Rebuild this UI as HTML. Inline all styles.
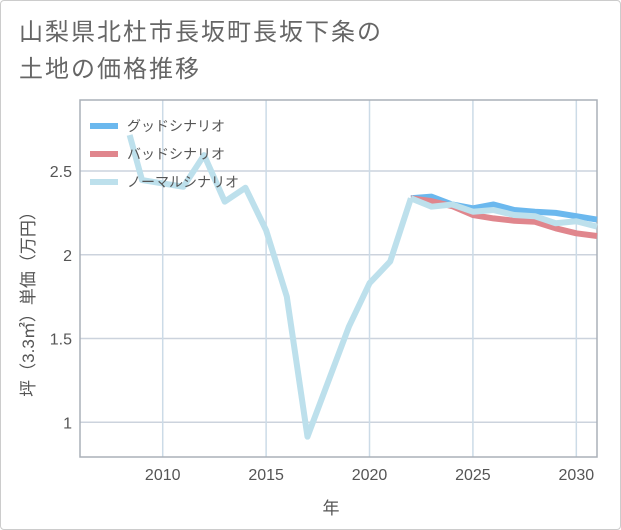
<!DOCTYPE html>
<html><head><meta charset="utf-8"><style>
html,body{margin:0;padding:0;background:#fff;}
body{width:621px;height:530px;overflow:hidden;font-family:"Liberation Sans","Noto Sans CJK JP",sans-serif;}
.card{position:absolute;left:0;top:0;width:619px;height:528px;border:1px solid #ccc;border-radius:4px;}
.title{position:absolute;left:19px;top:14px;font-size:24px;letter-spacing:2px;line-height:37px;color:#666;white-space:nowrap;}
</style></head><body>
<div class="card"></div>
<div class="title">山梨県北杜市長坂町長坂下条の<br>土地の価格推移</div>
<svg id="chart" width="621" height="530" style="position:absolute;left:0;top:0"></svg>
<script>
const years=[2008.4,2009,2011,2012,2013,2014,2015,2016,2017,2019,2020,2021,2022];
const hist=[2.715,2.446,2.406,2.595,2.317,2.40,2.146,1.75,0.914,1.57,1.83,1.96,2.337];
const fYears=[2022,2023,2024,2025,2026,2027,2028,2029,2030,2031];
const good=[2.337,2.347,2.30,2.277,2.30,2.267,2.257,2.25,2.23,2.21];
const bad=[2.337,2.32,2.29,2.237,2.217,2.203,2.197,2.158,2.128,2.112];
const normal=[2.337,2.287,2.30,2.257,2.267,2.237,2.23,2.188,2.20,2.168];
const xTicks=[2010,2015,2020,2025,2030];
const yTicks=[1,1.5,2,2.5];
const NS='http://www.w3.org/2000/svg';
const svg=document.getElementById('chart');
const L=80,R=597,T=100,B=457;
const X=y=>L+(y-2006)/(2031-2006)*(R-L);
const Y=v=>171+(2.5-v)*167.5;
function mk(t,a){const e=document.createElementNS(NS,t);for(const k in a)e.setAttribute(k,a[k]);svg.appendChild(e);return e;}
yTicks.forEach(v=>{
 const g=mk('line',{x1:L,x2:R,y1:Y(v),y2:Y(v),stroke:'#ccd3dd','stroke-width':1.5});
 
 
 const t=mk('text',{x:L-8,y:Y(v)+6,'text-anchor':'end','font-size':16,fill:'#555'});
 t.textContent=String(v);
 
 
});
xTicks.forEach(v=>{
 const g=mk('line',{x1:X(v),x2:X(v),y1:T,y2:B,stroke:'#ccdbe7','stroke-width':1.5});
 
 
 const t=mk('text',{x:X(v),y:B+23,'text-anchor':'middle','font-size':16,fill:'#555'});
 t.textContent=String(v);
 
 
});
const fr=mk('rect',{x:L,y:T,width:R-L,height:B-T,fill:'none',stroke:'#aab0b8','stroke-width':1.5});


function line(xs,vs,color,name){
 const p=mk('polyline',{points:xs.map((x,i)=>X(x)+','+Y(vs[i])).join(' '),fill:'none',stroke:color,'stroke-width':6,'stroke-linejoin':'round'});
 
 
}
line(fYears,good,'#6bb8ee','good-scenario-line');
line(fYears,bad,'#e0868d','bad-scenario-line');
line(fYears,normal,'#bde0ec','normal-scenario-line');
line(years,hist,'#bde0ec','historical-line');
const leg=[['グッドシナリオ','#6bb8ee'],['バッドシナリオ','#e0868d'],['ノーマルシナリオ','#bde0ec']];
leg.forEach((d,i)=>{
 const y=126+i*28;
 const s=mk('line',{x1:90,x2:118,y1:y,y2:y,stroke:d[1],'stroke-width':6});
 
 
 const t=mk('text',{x:127,y:y+5,'font-size':14,fill:'#555'});
 t.textContent=d[0];
 
 
});
const xt=mk('text',{x:331,y:514,'text-anchor':'middle','font-size':17,fill:'#555'});
xt.textContent='年';


const yt=mk('text',{x:0,y:0,'text-anchor':'middle','font-size':17,fill:'#555',transform:'translate(34,300) rotate(-90)'});
yt.textContent='坪（3.3㎡）単価（万円）';


</script>
</body></html>
